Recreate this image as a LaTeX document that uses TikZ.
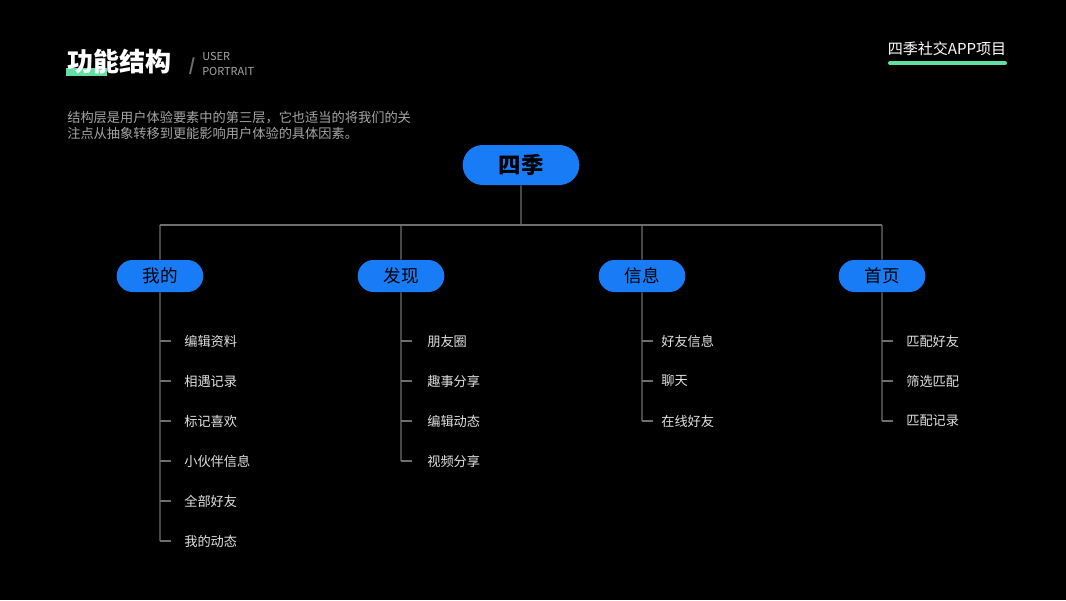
\documentclass[tikz,border=0pt]{standalone}
\usepackage{fontspec}
\setmainfont{Noto Sans CJK SC}
\usetikzlibrary{shapes.misc,positioning}

\definecolor{fsblue}{RGB}{24,124,246}
\definecolor{accent}{RGB}{96,224,162}
\definecolor{linegrey}{RGB}{110,110,110}
\definecolor{leafgrey}{RGB}{225,225,225}
\definecolor{textgrey}{RGB}{165,165,165}

\begin{document}
\begin{tikzpicture}[x=0.025cm,y=-0.025cm,
	root/.style={rounded rectangle, fill=fsblue, text=black, minimum width=3.15cm, minimum height=1cm, font=\fontsize{16}{16}\selectfont\bfseries},
	branch/.style={rounded rectangle, fill=fsblue, text=black, minimum width=2.4cm, minimum height=0.8cm, font=\fontsize{12.5}{12.5}\selectfont},
	leaf/.style={anchor=west, inner sep=0pt, text=leafgrey, font=\fontsize{9.4}{9.4}\selectfont},
	link/.style={draw=linegrey, line width=0.8pt}]
	\fill[black] (0,0) rectangle (1066,600);
	\useasboundingbox (0,0) rectangle (1066,600);

	% heading
	\fill[accent] (66,68) rectangle (107,76);
	\node[anchor=west, inner sep=0pt, text=white, font=\fontsize{18.5}{18.5}\selectfont\bfseries] (title) at (67,62) {功能结构};
	\node[inner sep=0pt, text=linegrey, font=\fontsize{12}{12}\selectfont\bfseries\itshape] (slash) at (192,66) {/};
	\node[anchor=west, inner sep=0pt, align=left, text=textgrey, font=\fontsize{7.8}{10}\selectfont] (sub) at (202,64) {USER\\PORTRAIT};
	\node[inner sep=0pt, text=white, font=\fontsize{10.7}{10.7}\selectfont] (tag) at (947,49) {四季社交APP项目};
	\draw[accent, line width=2.8pt, line cap=round] (890,63) -- (1005,63);
	\node[anchor=north west, inner sep=0pt, align=left, text=textgrey, font=\fontsize{9.4}{11.4}\selectfont] (intro) at (67,111)
		{结构层是用户体验要素中的第三层，它也适当的将我们的关\\注点从抽象转移到更能影响用户体验的具体因素。};

	% tree
	\node[root] (root) at (521,165) {四季};
	\node[branch] (b1) at (160,276) {我的};
	\node[branch] (b2) at (401,276) {发现};
	\node[branch] (b3) at (642,276) {信息};
	\node[branch] (b4) at (882,276) {首页};

	\coordinate (bus1) at (160,225);
	\coordinate (bus4) at (882,225);
	\draw[link] (root) -- (root |- bus1);
	\draw[link] (bus1) -- (bus4);
	\foreach \i in {1,...,4}
		\draw[link] (b\i |- bus1) -- (b\i);

	\foreach \t [count=\i] in {编辑资料,相遇记录,标记喜欢,小伙伴信息,全部好友,我的动态}
		\node[leaf] (l1\i) at (184,301+40*\i) {\t};
	\foreach \t [count=\i] in {朋友圈,趣事分享,编辑动态,视频分享}
		\node[leaf] (l2\i) at (427,301+40*\i) {\t};
	\foreach \t [count=\i] in {好友信息,聊天,在线好友}
		\node[leaf] (l3\i) at (661,301+40*\i) {\t};
	\foreach \t [count=\i] in {匹配好友,筛选匹配,匹配记录}
		\node[leaf] (l4\i) at (906,301+40*\i) {\t};

	\draw[link] (b1) -- (b1 |- l16);
	\draw[link] (b2) -- (b2 |- l24);
	\draw[link] (b3) -- (b3 |- l33);
	\draw[link] (b4) -- (b4 |- l43);
	\foreach \i in {1,...,6} \draw[link] (b1 |- l1\i) -- ++(11,0);
	\foreach \i in {1,...,4} \draw[link] (b2 |- l2\i) -- ++(11,0);
	\foreach \i in {1,...,3} \draw[link] (b3 |- l3\i) -- ++(11,0);
	\foreach \i in {1,...,3} \draw[link] (b4 |- l4\i) -- ++(11,0);
\end{tikzpicture}
\end{document}
